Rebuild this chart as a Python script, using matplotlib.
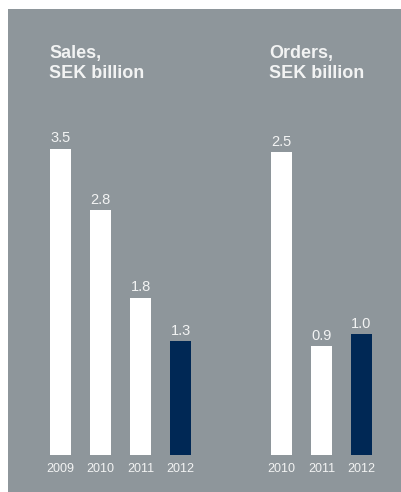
import matplotlib
matplotlib.use("Agg")
import matplotlib.pyplot as plt
from matplotlib.patches import Rectangle

plt.rcParams['font.family'] = ['Liberation Sans', 'DejaVu Sans']

sales_years = ["2009", "2010", "2011", "2012"]
sales_values = [3.5, 2.8, 1.8, 1.3]
orders_years = ["2010", "2011", "2012"]
orders_values = [2.5, 0.9, 1.0]

BG = "#8e969b"
NAVY = "#002855"
WHITE = "#ffffff"
TXT = "#f2f3f3"

W, H = 401, 492
fig = plt.figure(figsize=(W / 100, H / 100), dpi=100)
fig.patch.set_facecolor("white")
fig.add_artist(Rectangle((8 / W, 0), 1 - 8 / W, 1 - 9 / H, transform=fig.transFigure,
                         facecolor=BG, edgecolor="none", zorder=0))


def px_axes(left, bottom_from_top, width, height):
    return fig.add_axes([left / W, (H - bottom_from_top) / H, width / W, height / H])


def draw(ax, years, values, px_per_unit, height_px):
    n = len(years)
    colors = [WHITE] * (n - 1) + [NAVY]
    x = list(range(n))
    ax.bar(x, values, width=0.525, color=colors, edgecolor="none")
    ax.set_xlim(-0.5, n - 0.5)
    ax.set_ylim(0, height_px / px_per_unit)
    ax.set_facecolor("none")
    ax.axis("off")
    for xi, v in zip(x, values):
        ax.annotate(f"{v:.1f}", (xi, v), xytext=(0, 2.5), textcoords="offset points",
                    ha="center", va="bottom", fontsize=10.5, color=TXT)
    for xi, y in zip(x, years):
        ax.annotate(y, (xi, 0), xytext=(0, -5.5), textcoords="offset points",
                    ha="center", va="top", fontsize=9, color=TXT)


ax1 = px_axes(40.5, 455, 160, 360)
draw(ax1, sales_years, sales_values, 87.5, 360)
ax2 = px_axes(261.5, 455, 120, 360)
draw(ax2, orders_years, orders_values, 121.0, 360)

fig.text(49 / W, 1 - 45 / H, "Sales,\nSEK billion", ha="left", va="top",
         fontsize=13, fontweight="bold", color=TXT, linespacing=1.2)
fig.text(269 / W, 1 - 45 / H, "Orders,\nSEK billion", ha="left", va="top",
         fontsize=13, fontweight="bold", color=TXT, linespacing=1.2)

fig.savefig("out.png", dpi=100, facecolor=fig.get_facecolor())
